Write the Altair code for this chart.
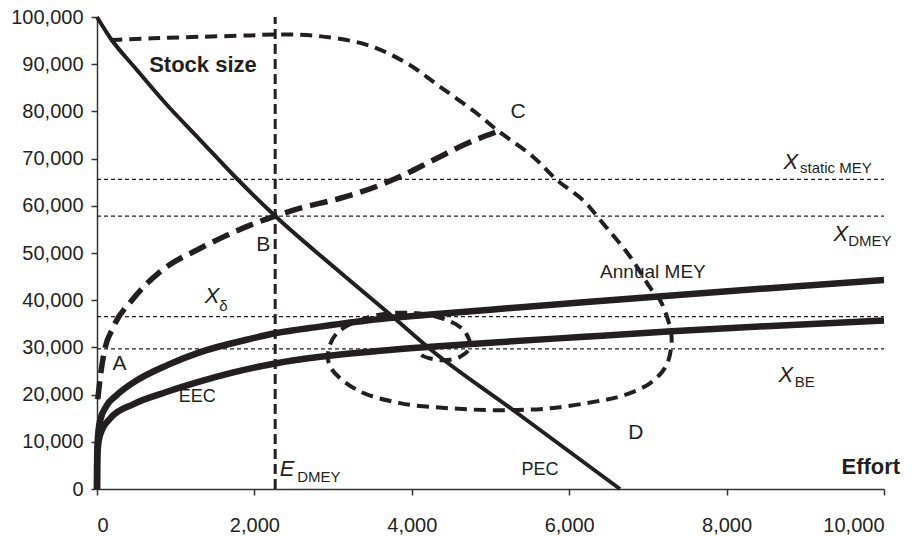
import altair as alt
import pandas as pd

INK = "#231f20"
FONT = "Liberation Sans"

# Axis ticks
x_ticks = [0, 2000, 4000, 6000, 8000, 10000]
y_ticks = [0, 10000, 20000, 30000, 40000, 50000, 60000, 70000, 80000, 90000, 100000]

# Stock size along the PEC
pec_effort = [0, 169, 486, 867, 1312, 1757, 2264, 3025, 3762, 4232, 5286, 6645]
pec_stock = [100000, 95550, 89190, 81780, 73940, 66100, 57840, 46820, 36440, 29660, 16740, 0]

# Annual MEY curve
mey_effort = [0, 2, 10, 40, 120, 250, 465, 900, 1312, 1947, 2264, 2838, 3600, 4200, 5000, 6140, 7300, 8500, 10000]
mey_stock = [0, 6500, 10500, 14500, 17600, 19900, 22600, 26300, 29000, 31800, 33000, 34400, 36000, 36900, 38000,
             39500, 41000, 42500, 44300]

# EEC curve
eec_effort = [0, 2, 10, 40, 170, 465, 890, 1312, 1733, 2264, 2838, 3600, 4200, 5000, 6140, 7300, 8500, 10000]
eec_stock = [0, 5000, 8500, 11500, 15000, 18000, 20600, 22800, 24700, 26600, 28000, 29300, 30100, 31000, 32200,
             33400, 34500, 35700]

# Path A -> B -> C
abc_effort = [10, 40, 84, 211, 444, 800, 1312, 1566, 1947, 2264, 2582, 3090, 3598, 3852, 4275, 4699, 5079]
abc_stock = [19000, 23500, 28400, 34400, 40000, 46000, 51000, 53100, 55900, 57800, 59500, 61600, 64400, 66200,
             69700, 73200, 75700]

# Adjustment path spiralling in to the equilibrium
spiral_effort = [170, 700, 1300, 1947, 2264, 2794, 3429, 3937, 4360, 4825, 5079, 5540, 5841, 6175,
                 6393, 6775, 7048, 7155, 7280, 7302, 7238, 7026, 6645, 6393, 5755, 5120, 4487, 3851,
                 3302, 2963, 2942, 3047, 3344, 3768, 4318, 4655, 4740, 4614, 4360, 4106, 4180]
spiral_stock = [95100, 95500, 95800, 96100, 96300, 96000, 94100, 90200, 85200, 79600, 76100, 70400, 65500, 61200,
                57000, 49200, 42200, 40000, 34400, 31600, 26300, 22400, 19600, 18700, 17100, 16700, 17100, 18200,
                21000, 25900, 29400, 33000, 35800, 37300, 36500, 33700, 30100, 28000, 27300, 28700, 30400]

# Reference stock levels and effort
ref_names = ["static MEY", "DMEY", "delta", "BE"]
ref_stock = [65600, 57800, 36500, 29700]
e_dmey = 2264

# Annotations (effort, stock positions)
plain_text = ["C", "B", "A", "D", "Annual MEY", "EEC", "PEC"]
plain_effort = [5350, 2112, 285, 6848, 7064, 1274, 5629]
plain_stock = [79870, 51690, 26480, 11860, 45970, 19490, 4030]
plain_size = [21, 21, 21, 21, 19, 18, 18]

bold_text = ["Stock size", "Effort"]
bold_effort = [1346, 9833]
bold_stock = [89830, 4660]

ital_text = ["X", "X", "X", "X", "E"]
ital_effort = [8817, 9451, 1464, 8753, 2416]
ital_stock = [69280, 54030, 40890, 24150, 4240]

sub_text = ["static MEY", "DMEY", "δ", "BE", "DMEY"]
sub_effort = [8934, 9545, 1553, 8867, 2543]
sub_stock = [68000, 52600, 38770, 22670, 2540]


def frame(xs, ys):
    return pd.DataFrame({"effort": xs, "stock": ys, "i": list(range(len(xs)))})


x_scale = alt.Scale(domain=[0, 10000], nice=False)
y_scale = alt.Scale(domain=[0, 100000], nice=False)
x_enc = alt.X("effort:Q", scale=x_scale, axis=alt.Axis(values=x_ticks, format=",d", title=None))
y_enc = alt.Y("stock:Q", scale=y_scale, axis=alt.Axis(values=y_ticks, format=",d", title=None))


def curve(df, width, dash=None, interp="monotone"):
    kw = dict(color=INK, strokeWidth=width, interpolate=interp, clip=False, strokeCap="butt")
    if dash:
        kw["strokeDash"] = dash
    return alt.Chart(df).mark_line(**kw).encode(x=x_enc, y=y_enc, order="i:Q")


ref_df = pd.DataFrame({"name": ref_names, "stock": ref_stock,
                       "x0": [0] * 4, "x1": [10000] * 4})
hrules = alt.Chart(ref_df).mark_rule(color=INK, strokeWidth=1.2, strokeDash=[4, 3]).encode(
    y=alt.Y("stock:Q", scale=y_scale),
    x=alt.X("x0:Q", scale=x_scale),
    x2="x1:Q",
)

vdf = pd.DataFrame({"effort": [e_dmey], "y0": [0], "y1": [100000]})
vrule = alt.Chart(vdf).mark_rule(color=INK, strokeWidth=3, strokeDash=[10, 5]).encode(
    x=alt.X("effort:Q", scale=x_scale),
    y=alt.Y("y0:Q", scale=y_scale),
    y2="y1:Q",
)

mey = curve(frame(mey_effort, mey_stock), 6.5)
eec = curve(frame(eec_effort, eec_stock), 6.5)
pec = curve(frame(pec_effort, pec_stock), 4)
abc = curve(frame(abc_effort, abc_stock), 5.5, dash=[18, 8])
spiral = curve(frame(spiral_effort, spiral_stock), 4, dash=[12, 7], interp="catmull-rom")


def labels(texts, xs, ys, **mark):
    df = pd.DataFrame({"t": texts, "effort": xs, "stock": ys})
    return alt.Chart(df).mark_text(font=FONT, color=INK, baseline="middle", **mark).encode(
        x=alt.X("effort:Q", scale=x_scale),
        y=alt.Y("stock:Q", scale=y_scale),
        text="t:N",
    )


plain_df = pd.DataFrame({"t": plain_text, "effort": plain_effort, "stock": plain_stock, "fs": plain_size})
plain = alt.Chart(plain_df).mark_text(font=FONT, color=INK, baseline="middle", align="center").encode(
    x=alt.X("effort:Q", scale=x_scale),
    y=alt.Y("stock:Q", scale=y_scale),
    text="t:N",
    size=alt.Size("fs:Q", scale=None, legend=None),
)
bold = labels(bold_text, bold_effort, bold_stock, fontSize=22, fontWeight="bold", align="center")
ital = labels(ital_text, ital_effort, ital_stock, fontSize=22, fontStyle="italic", align="center")
subs = labels(sub_text, sub_effort, sub_stock, fontSize=15, align="left")

chart = alt.layer(
    hrules, vrule, mey, eec, pec, abc, spiral, plain, bold, ital, subs
).properties(
    width=787, height=472,
    autosize=alt.AutoSizeParams(type="none"),
    padding={"left": 97, "top": 17, "right": 37, "bottom": 47},
).configure_view(
    stroke=None
).configure_axis(
    grid=False,
    domainColor="#333333", domainWidth=1.5,
    tickColor="#333333", tickWidth=1.5, tickSize=6,
    labelFont=FONT, labelFontSize=20, labelColor=INK,
).configure_axisX(
    labelPadding=20,
).configure_axisY(
    labelPadding=8,
)

chart.save("out.html", embed_options={"renderer": "svg", "actions": False})
